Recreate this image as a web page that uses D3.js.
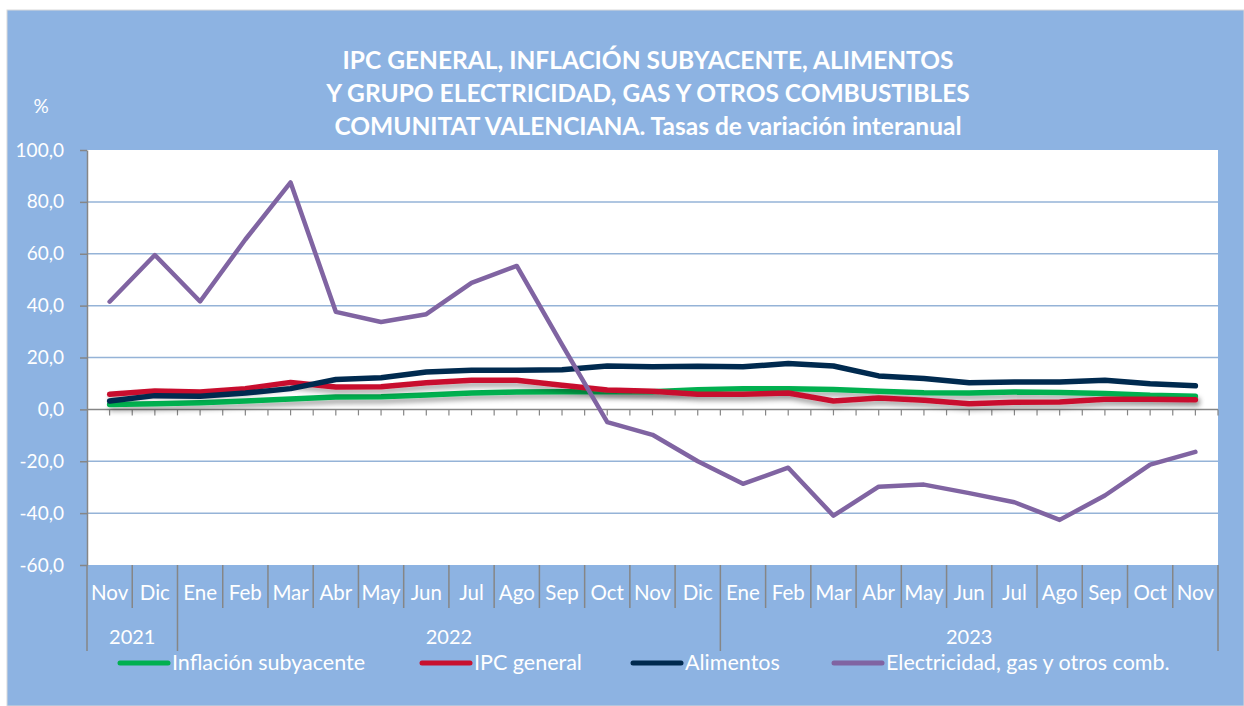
<!DOCTYPE html>
<html>
<head>
<meta charset="utf-8">
<script src="https://cdn.jsdelivr.net/npm/d3@7"></script>
<style>
  body { margin: 0; background: #fff; }
  svg { display: block; font-family: Lato, "Open Sans", sans-serif; }
</style>
</head>
<body>
<div id="chart"></div>
<script>
// categories
var months = ["Nov","Dic","Ene","Feb","Mar","Abr","May","Jun","Jul","Ago","Sep","Oct",
  "Nov","Dic","Ene","Feb","Mar","Abr","May","Jun","Jul","Ago","Sep","Oct","Nov"];
var years = ["2021", "2022", "2023"];
var yearSpans = [2, 12, 11];

// series values (%)
var subyacente = [1.9,2.2,2.6,3.2,4.0,4.8,4.9,5.5,6.3,6.7,6.8,6.8,6.8,7.6,8.0,8.0,7.7,7.0,6.4,6.3,6.7,6.5,6.1,5.4,5.1];
var ipcGeneral = [5.8,7.1,6.7,8.0,10.4,8.6,8.7,10.3,11.2,11.2,9.3,7.5,7.0,5.8,5.8,6.3,3.2,4.4,3.5,2.2,2.7,2.8,3.9,3.9,3.7];
var alimentos  = [3.2,5.3,5.1,6.3,8.0,11.5,12.2,14.4,15.1,15.1,15.3,16.7,16.4,16.6,16.4,17.7,16.7,12.9,11.9,10.3,10.6,10.6,11.2,9.9,9.1];
var electricidad = [41.5,59.5,41.6,65.5,87.5,37.6,33.7,36.7,48.8,55.3,25.0,-4.9,-9.8,-20.0,-28.7,-22.5,-41.0,-29.8,-29.0,-32.3,-35.8,-42.6,-33.2,-21.3,-16.4];

var seriesNames = ["Inflación subyacente", "IPC general", "Alimentos", "Electricidad, gas y otros comb."];
var seriesColors = ["#00B050", "#C8102E", "#002A4F", "#8064A2"];
var seriesValues = [subyacente, ipcGeneral, alimentos, electricidad];

// y ticks
var yTicks = [-60, -40, -20, 0, 20, 40, 60, 80, 100];

var titleLines = [
  "IPC GENERAL, INFLACIÓN SUBYACENTE, ALIMENTOS",
  "Y GRUPO ELECTRICIDAD, GAS Y OTROS COMBUSTIBLES",
  "COMUNITAT VALENCIANA. Tasas de variación interanual"
];

var W = 1244, H = 706;
var plot = {left: 87, top: 150, right: 1218, bottom: 565};
var bg = "#8DB3E2", grid = "#95B3D7", axisGray = "#868686";

var svg = d3.select("#chart").append("svg")
  .attr("width", W)
  .attr("height", H);

var defs = svg.append("defs");
defs.append("filter")
  .attr("id", "shadow")
  .attr("x", "-5%").attr("y", "-50%")
  .attr("width", "110%").attr("height", "300%")
  .append("feDropShadow")
  .attr("dx", 2).attr("dy", 4)
  .attr("stdDeviation", 2.5)
  .attr("flood-color", "#000")
  .attr("flood-opacity", 0.35);

// chart background
svg.append("rect")
  .attr("x", 7).attr("y", 10)
  .attr("width", W - 7).attr("height", H - 10)
  .attr("fill", bg)
  .attr("stroke", "#d9d9d9")
  .attr("stroke-width", 1);

// plot area
svg.append("rect")
  .attr("x", plot.left).attr("y", plot.top)
  .attr("width", plot.right - plot.left)
  .attr("height", plot.bottom - plot.top)
  .attr("fill", "#fff");

// title
svg.append("g")
  .selectAll("text")
  .data(titleLines)
  .join("text")
  .attr("x", 648)
  .attr("y", (d, i) => 69 + i * 33)
  .attr("text-anchor", "middle")
  .attr("fill", "#fff")
  .attr("font-weight", "bold")
  .attr("font-size", 24.5)
  .text(d => d);

svg.append("text")
  .attr("x", 41).attr("y", 113)
  .attr("text-anchor", "middle")
  .attr("fill", "#fff")
  .attr("font-size", 19)
  .text("%");

// scales
var x = d3.scaleBand()
  .domain(d3.range(months.length))
  .range([plot.left, plot.right])
  .padding(0);
var y = d3.scaleLinear()
  .domain([-60, 100])
  .range([plot.bottom, plot.top]);

var locale = d3.formatLocale({decimal: ",", thousands: ".", grouping: [3], currency: ["", "€"], minus: "-"});
var fmt = locale.format(".1f");

// gridlines
svg.append("g")
  .selectAll("line")
  .data(yTicks.filter(d => d !== 0 && d !== -60 && d !== 100))
  .join("line")
  .attr("x1", plot.left).attr("x2", plot.right)
  .attr("y1", d => y(d)).attr("y2", d => y(d))
  .attr("stroke", grid)
  .attr("stroke-width", 1.5);

// y axis
var yAxis = svg.append("g")
  .attr("transform", `translate(${plot.left},0)`)
  .call(d3.axisLeft(y).tickValues(yTicks).tickFormat(fmt).tickSize(7).tickSizeOuter(0));
yAxis.select(".domain").attr("stroke", axisGray).attr("stroke-width", 1.5);
yAxis.selectAll(".tick line").attr("stroke", axisGray).attr("stroke-width", 1.5);
yAxis.selectAll(".tick text")
  .attr("fill", "#fff")
  .attr("font-size", 19)
  .attr("font-family", "Lato, sans-serif")
  .attr("x", -23);

// zero axis with ticks at every half category
var halfTicks = d3.range(months.length * 2 + 1).map(i => plot.left + i * x.bandwidth() / 2);
svg.append("line")
  .attr("x1", plot.left).attr("x2", plot.right)
  .attr("y1", y(0)).attr("y2", y(0))
  .attr("stroke", axisGray).attr("stroke-width", 1.5);
svg.append("g")
  .selectAll("line")
  .data(halfTicks.slice(1))
  .join("line")
  .attr("x1", d => d).attr("x2", d => d)
  .attr("y1", y(0)).attr("y2", y(0) + 6)
  .attr("stroke", axisGray).attr("stroke-width", 1.2);

// category separators below plot
var yearBounds = [0];
yearSpans.forEach((s, i) => yearBounds.push(yearBounds[i] + s));
var sep = svg.append("g");
d3.range(months.length + 1).forEach(function (i) {
  var isYear = yearBounds.indexOf(i) >= 0;
  var xx = i < months.length ? x(i) : plot.right;
  sep.append("line")
    .attr("x1", xx).attr("x2", xx)
    .attr("y1", plot.bottom).attr("y2", isYear ? 651 : 608)
    .attr("stroke", axisGray).attr("stroke-width", 1.5);
});

// month labels
svg.append("g")
  .selectAll("text")
  .data(months)
  .join("text")
  .attr("x", (d, i) => x(i) + x.bandwidth() / 2)
  .attr("y", 600)
  .attr("text-anchor", "middle")
  .attr("fill", "#fff")
  .attr("font-size", 20.5)
  .text(d => d);

// year labels
svg.append("g")
  .selectAll("text")
  .data(years)
  .join("text")
  .attr("x", (d, i) => {
    var a = x(yearBounds[i]);
    var b = yearBounds[i + 1] < months.length ? x(yearBounds[i + 1]) : plot.right;
    return (a + b) / 2;
  })
  .attr("y", 644)
  .attr("text-anchor", "middle")
  .attr("fill", "#fff")
  .attr("font-size", 20)
  .text(d => d);

// lines
var line = d3.line()
  .x((d, i) => x(i) + x.bandwidth() / 2)
  .y(d => y(d));

seriesValues.forEach(function (vals, k) {
  svg.append("path")
    .datum(vals)
    .attr("fill", "none")
    .attr("stroke", seriesColors[k])
    .attr("stroke-width", k === 3 ? 4.5 : 5.5)
    .attr("stroke-linejoin", "round")
    .attr("stroke-linecap", "round")
    .attr("filter", k < 2 ? "url(#shadow)" : null)
    .attr("d", line);
});

// legend
var legendX = [120, 422, 633, 834];
var legend = svg.append("g");
seriesNames.forEach(function (name, k) {
  legend.append("line")
    .attr("x1", legendX[k]).attr("x2", legendX[k] + 48)
    .attr("y1", 663).attr("y2", 663)
    .attr("stroke", seriesColors[k])
    .attr("stroke-width", 5)
    .attr("stroke-linecap", "round");
  legend.append("text")
    .attr("x", legendX[k] + 52)
    .attr("y", 670)
    .attr("fill", "#fff")
    .attr("font-size", 21.5)
    .text(name);
});
</script>
</body>
</html>
